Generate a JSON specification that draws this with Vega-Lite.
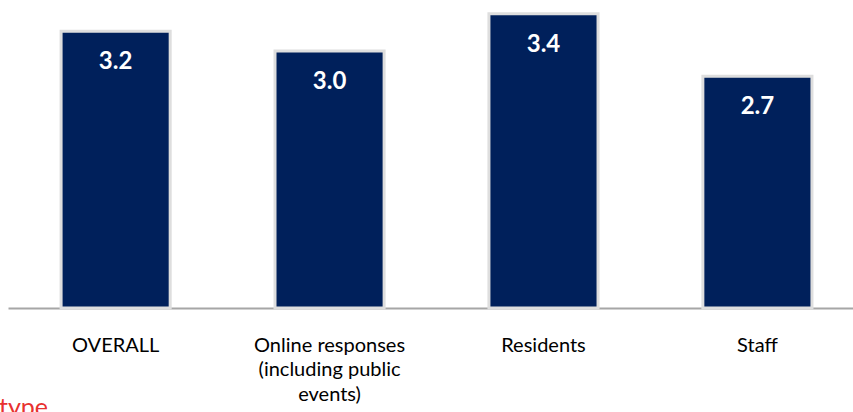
{
  "$schema": "https://vega.github.io/schema/vega-lite/v6.json",
  "width": 845,
  "height": 308,
  "autosize": "none",
  "padding": {"left": 8, "top": 0, "right": 0, "bottom": 104},
  "background": "white",
  "title": {
    "text": "type",
    "orient": "bottom",
    "anchor": "start",
    "frame": "bounds",
    "offset": -8,
    "dx": -9,
    "color": "#e8312f",
    "font": "Lato",
    "fontSize": 25,
    "fontWeight": "normal",
    "baseline": "top"
  },
  "data": {
    "values": [
      {"group": "OVERALL", "score": 3.2},
      {"group": "Online responses|(including public|events)", "score": 2.97},
      {"group": "Residents", "score": 3.4},
      {"group": "Staff", "score": 2.68}
    ]
  },
  "encoding": {
    "x": {
      "field": "group",
      "type": "nominal",
      "sort": null,
      "scale": {"paddingInner": 0.49, "paddingOuter": 0.22, "align": 0.564},
      "axis": {
        "title": null,
        "labelAngle": 0,
        "ticks": false,
        "labelPadding": 27,
        "labelFont": "Lato",
        "labelFontSize": 20,
        "labelColor": "#000000",
        "labelLineHeight": 24.5,
        "labelBaseline": "top",
        "labelExpr": "split(datum.label, '|')",
        "domainColor": "#a6a6a6",
        "domainWidth": 2,
        "grid": false
      }
    },
    "y": {
      "field": "score",
      "type": "quantitative",
      "scale": {"domain": [0, 3.56], "nice": false},
      "axis": null
    }
  },
  "layer": [
    {
      "mark": {"type": "bar", "color": "#00205b", "stroke": "#dedede", "strokeWidth": 3}
    },
    {
      "mark": {
        "type": "text",
        "color": "white",
        "font": "Lato",
        "fontSize": 24,
        "fontWeight": "bold",
        "baseline": "middle",
        "dy": 31
      },
      "encoding": {
        "text": {"field": "score", "type": "quantitative", "format": ".1f"}
      }
    }
  ],
  "config": {"view": {"stroke": null}}
}
